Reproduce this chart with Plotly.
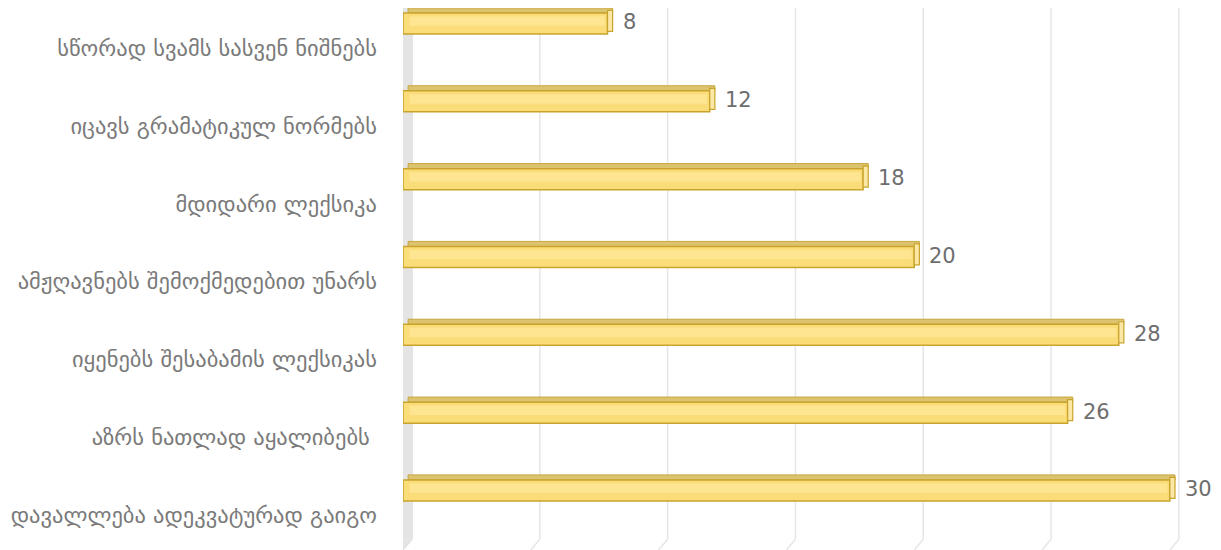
import plotly.graph_objects as go

# categories top to bottom
categories = [
    "სწორად სვამს სასვენ ნიშნებს",
    "იცავს გრამატიკულ ნორმებს",
    "მდიდარი ლექსიკა",
    "ამჟღავნებს შემოქმედებით უნარს",
    "იყენებს შესაბამის ლექსიკას",
    "აზრს ნათლად აყალიბებს ",
    "დავალლება ადეკვატურად გაიგო",
]
values = [8, 12, 18, 20, 28, 26, 30]
grid_ticks = [0, 5, 10, 15, 20, 25, 30]

# the page body has an 8px margin, so the figure is sized to the visible part
W, H = 1213, 542
ML, MR = 395, 0
xmax = 32
ymin, ymax = -0.514, 6.45
px_per_cat = H / (ymax - ymin)

front_w = 0.27
top_w = 0.065
lift = 0.315  # bars sit above the label line (3d perspective)
depth_px = 9  # 3d shift of back wall and grid
floor = 0.02  # paper y where the back wall meets the floor

fig = go.Figure()

# top face of the 3d bars
fig.add_trace(go.Bar(
    y=categories, x=values, base=0.2, orientation="h",
    width=top_w, offset=-lift - front_w / 2 - top_w,
    marker=dict(color="#DCC370", line=dict(color="#C8A63C", width=1)),
    hoverinfo="skip", showlegend=False,
))
# front face
fig.add_trace(go.Bar(
    y=categories, x=values, orientation="h",
    width=front_w, offset=-lift - front_w / 2,
    marker=dict(color="#FADC78", line=dict(color="#C9A42C", width=1.5)),
    showlegend=False,
))
# lighter highlight band in the front face
fig.add_trace(go.Bar(
    y=categories, x=[v - 0.35 for v in values], base=0.25, orientation="h",
    width=0.12, offset=-lift - 0.09,
    marker=dict(color="#FDE592", line=dict(width=0)),
    hoverinfo="skip", showlegend=False,
))
# right end face
fig.add_trace(go.Bar(
    y=categories, x=[0.2] * len(values), base=values, orientation="h",
    width=front_w, offset=-lift - front_w / 2 - top_w / 2,
    marker=dict(color="#FBE7A6", line=dict(color="#C9A42C", width=1.2)),
    hoverinfo="skip", showlegend=False,
))

for c, v in zip(categories, values):
    fig.add_annotation(x=v, y=c, yshift=lift * px_per_cat + 1, xshift=13, text=str(v),
                       showarrow=False, xanchor="left", yanchor="middle",
                       font=dict(family="DejaVu Sans", size=21, color="#6E6E6E"))

shapes = []
# back wall on the left
shapes.append(dict(type="rect", xref="x", xanchor=0, xsizemode="pixel",
                   x0=-4, x1=depth_px + 1, yref="paper", y0=floor, y1=1,
                   fillcolor="#E4E4E4", line=dict(width=0), layer="below"))
shapes.append(dict(type="path", xref="x", xanchor=0, xsizemode="pixel",
                   yref="paper",
                   path=f"M -4,{floor} L {depth_px + 1},{floor} L 1,0 L -4,0 Z",
                   fillcolor="#E4E4E4", line=dict(width=0), layer="below"))
# grid lines on the back wall, with the short floor diagonal
for t in grid_ticks[1:]:
    shapes.append(dict(type="line", xref="x", xanchor=t, xsizemode="pixel",
                       x0=depth_px, x1=depth_px, yref="paper", y0=floor, y1=1,
                       line=dict(color="#E6E6E6", width=1.5), layer="below"))
    shapes.append(dict(type="line", xref="x", xanchor=t, xsizemode="pixel",
                       x0=depth_px, x1=0, yref="paper", y0=floor, y1=0,
                       line=dict(color="#E6E6E6", width=1.5), layer="below"))
# right edge of the back wall
shapes.append(dict(type="line", xref="paper", x0=0.9975, x1=0.9975, yref="paper",
                   y0=floor, y1=1, line=dict(color="#E0E0E0", width=1.5),
                   layer="below"))

fig.update_layout(
    width=W, height=H,
    margin=dict(l=ML, r=MR, t=0, b=0, autoexpand=False),
    paper_bgcolor="white", plot_bgcolor="white",
    barmode="overlay",
    xaxis=dict(range=[0, xmax], showgrid=False, showticklabels=False,
               zeroline=False, automargin=False),
    yaxis=dict(range=[ymax, ymin], showgrid=False, zeroline=False,
               ticks="", ticklabelstandoff=25, automargin=False,
               tickfont=dict(family="DejaVu Sans", size=22.5, color="#7A7A7A")),
    shapes=shapes,
)

fig.write_html("out.html")
